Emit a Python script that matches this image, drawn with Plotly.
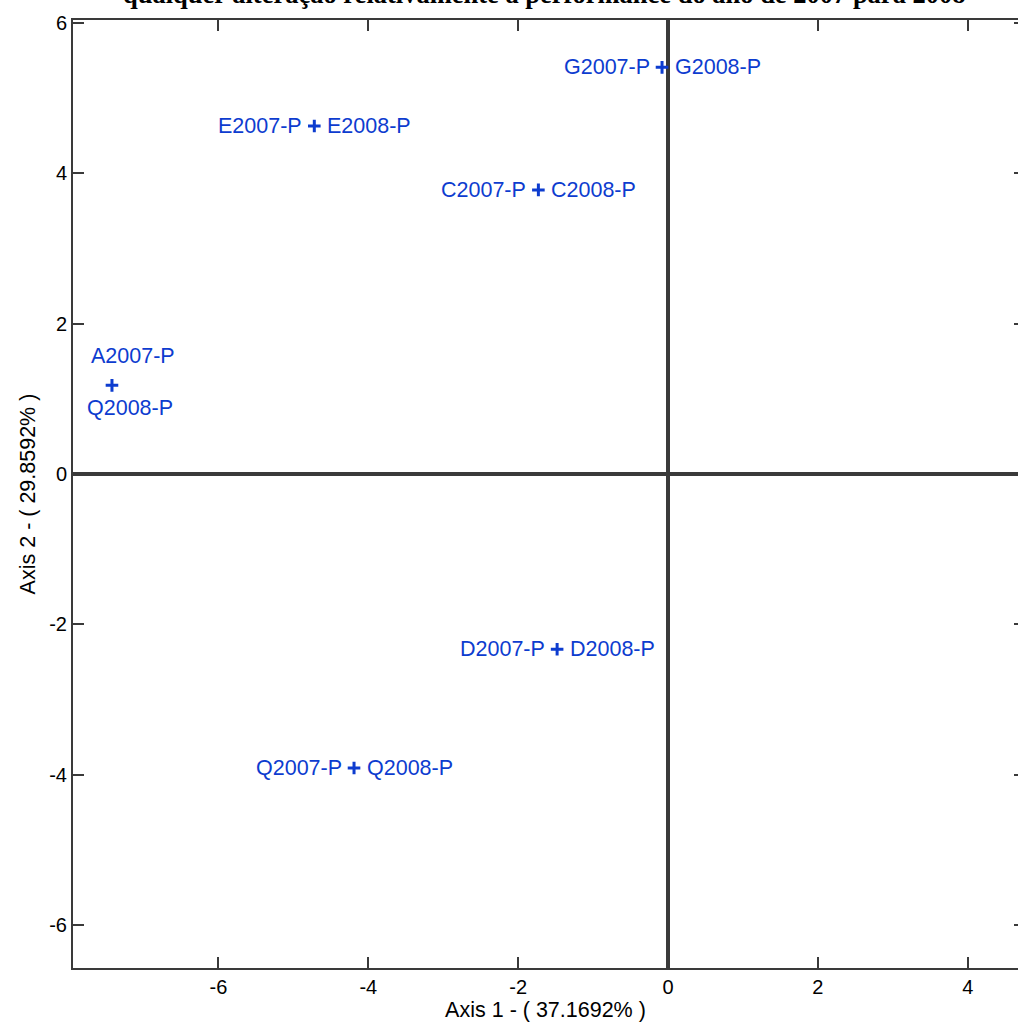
import plotly.graph_objects as go

# ---- data ----
point_x = [-0.08, -4.72, -1.73, -7.42, -1.48, -4.19]
point_y = [5.41, 4.63, 3.78, 1.18, -2.33, -3.91]
labels_2007 = ["G2007-P", "E2007-P", "C2007-P", "A2007-P", "D2007-P", "Q2007-P"]
labels_2008 = ["G2008-P", "E2008-P", "C2008-P", "Q2008-P", "D2008-P", "Q2008-P"]
x_ticks = [-6, -4, -2, 0, 2, 4]
x_tick_labels = ["-6", "-4", "-2", "0", "2", "4"]
y_ticks = [-6, -4, -2, 0, 2, 4, 6]
y_tick_labels = ["-6", "-4", "-2", "0", "2", "4", "6"]
title_text = "qualquer alteração relativamente à performance do ano de 2007 para 2008"
x_title = "Axis 1 - ( 37.1692% )"
y_title = "Axis 2 - ( 29.8592% )"

BLUE = "#0d3ccf"
AXC = "#3a3a3a"
FONT = "Liberation Sans, Arial, sans-serif"
LBL = dict(family=FONT, size=21.5, color=BLUE)

fig = go.Figure()
fig.add_trace(go.Scatter(
    x=point_x, y=point_y, mode="markers",
    marker=dict(symbol="cross-thin", size=9, line=dict(color=BLUE, width=3), color=BLUE),
    showlegend=False, hoverinfo="skip"))
fig.add_trace(go.Scatter(x=[0], y=[0], yaxis="y2", mode="markers",
                         marker=dict(opacity=0), showlegend=False, hoverinfo="skip"))

annotations = []
for i, (px, py) in enumerate(zip(point_x, point_y)):
    stacked = (labels_2007[i][0] != labels_2008[i][0])
    if stacked:
        annotations.append(dict(x=px, y=py, text=labels_2007[i], showarrow=False,
                                xanchor="center", yanchor="middle", xshift=21, yshift=29, font=LBL))
        annotations.append(dict(x=px, y=py, text=labels_2008[i], showarrow=False,
                                xanchor="center", yanchor="middle", xshift=18, yshift=-23, font=LBL))
    else:
        annotations.append(dict(x=px, y=py, text=labels_2007[i], showarrow=False,
                                xanchor="right", yanchor="middle", xshift=-10, font=LBL))
        annotations.append(dict(x=px, y=py, text=labels_2008[i], showarrow=False,
                                xanchor="left", yanchor="middle", xshift=11, font=LBL))

annotations.append(dict(xref="paper", yref="paper", x=0.5, y=1.0, yshift=9, xshift=-1,
                        xanchor="center", yanchor="bottom", showarrow=False,
                        text="<b>" + title_text + "</b>",
                        font=dict(family="Liberation Serif, Times New Roman, serif", size=26.5, color="black")))

TICKF = dict(family=FONT, size=20, color="black")
TITLEF = dict(family=FONT, size=21.5, color="black")

fig.update_layout(
    width=1018, height=1025,
    margin=dict(l=73, r=0, t=20, b=57),
    paper_bgcolor="white", plot_bgcolor="white",
    annotations=annotations,
    xaxis=dict(range=[-7.94, 4.67], tickvals=x_ticks, ticktext=x_tick_labels,
               ticks="inside", ticklen=11, tickwidth=2,
               tickcolor=AXC, showline=True, linecolor=AXC, linewidth=2, mirror="ticks",
               showgrid=False, zeroline=True, zerolinecolor=AXC, zerolinewidth=3.5,
               tickfont=TICKF, title=dict(text=x_title, font=TITLEF, standoff=4)),
    yaxis=dict(range=[-6.57, 6.04], tickvals=y_ticks, ticktext=y_tick_labels,
               ticks="inside", ticklen=11, tickwidth=2,
               tickcolor=AXC, showline=True, linecolor=AXC, linewidth=2, mirror=False,
               showgrid=False, zeroline=True, zerolinecolor=AXC, zerolinewidth=3.5,
               tickfont=TICKF, title=dict(text=y_title, font=TITLEF, standoff=8)),
    yaxis2=dict(range=[-6.57, 6.04], tickvals=y_ticks, overlaying="y", side="right",
                ticks="inside", ticklen=4, tickwidth=2, tickcolor=AXC, showticklabels=False,
                showline=False, showgrid=False, zeroline=False),
)

fig.write_html("out.html", config={"displayModeBar": False},
               post_script="document.body.style.margin='0';document.body.style.overflow='hidden';"
                           "document.documentElement.style.overflow='hidden';")
